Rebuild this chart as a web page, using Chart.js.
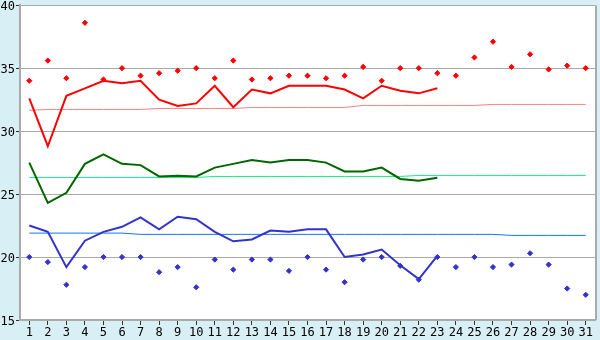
<!DOCTYPE html>
<html>
<head>
<meta charset="utf-8">
<script src="https://cdn.jsdelivr.net/npm/chart.js@4"></script>
<style>
  html, body { margin: 0; padding: 0; background: #d9eff6; }
  #wrap { width: 600px; height: 340px; }
</style>
</head>
<body>
<div id="wrap"><canvas id="chart" width="600" height="340"></canvas></div>
<script>
// days of the month
const days = ['1','2','3','4','5','6','7','8','9','10','11','12','13','14','15','16',
  '17','18','19','20','21','22','23','24','25','26','27','28','29','30','31'];

// daily readings (diamonds)
const highPoints = [34.0, 35.6, 34.2, 38.6, 34.1, 35.0, 34.4, 34.6, 34.8, 35.0, 34.2, 35.6, 34.1, 34.2, 34.4, 34.4,
  34.2, 34.4, 35.1, 34.0, 35.0, 35.0, 34.6, 34.4, 35.85, 37.1, 35.1, 36.1, 34.9, 35.2, 35.0];
const lowPoints = [20.0, 19.6, 17.8, 19.2, 20.0, 20.0, 20.0, 18.8, 19.2, 17.6, 19.8, 19.0, 19.8, 19.8, 18.9, 20.0,
  19.0, 18.0, 19.8, 20.0, 19.3, 18.2, 20.0, 19.2, 20.0, 19.2, 19.4, 20.3, 19.4, 17.5, 17.0];

// thick lines (first 23 days only)
const highLine = [32.6, 28.8, 32.8, 33.4, 34.0, 33.8, 34.0, 32.5, 32.0, 32.2, 33.6, 31.9, 33.3, 33.0, 33.6, 33.6,
  33.6, 33.3, 32.6, 33.6, 33.2, 33.0, 33.4, null, null, null, null, null, null, null, null];
const midLine = [27.5, 24.3, 25.1, 27.4, 28.15, 27.4, 27.3, 26.4, 26.45, 26.4, 27.1, 27.4, 27.7, 27.5, 27.7, 27.7,
  27.5, 26.8, 26.8, 27.1, 26.2, 26.05, 26.3, null, null, null, null, null, null, null, null];
const lowLine = [22.5, 22.0, 19.2, 21.3, 22.0, 22.4, 23.15, 22.2, 23.2, 23.0, 22.0, 21.25, 21.4, 22.1, 22.0, 22.2,
  22.2, 20.0, 20.2, 20.6, 19.35, 18.25, 20.1, null, null, null, null, null, null, null, null];

// thin reference lines
const highRef = [31.65, 31.72, 31.72, 31.72, 31.72, 31.72, 31.72, 31.8, 31.8, 31.8, 31.8, 31.8, 31.88, 31.88, 31.88, 31.88,
  31.88, 31.88, 32.04, 32.04, 32.04, 32.04, 32.04, 32.04, 32.04, 32.12, 32.12, 32.12, 32.12, 32.12, 32.12];
const midRef = [26.32, 26.32, 26.32, 26.32, 26.32, 26.32, 26.32, 26.32, 26.32, 26.32, 26.4, 26.4, 26.4, 26.4, 26.4, 26.4,
  26.4, 26.4, 26.4, 26.4, 26.4, 26.48, 26.48, 26.48, 26.48, 26.48, 26.48, 26.48, 26.48, 26.48, 26.48];
const lowRef = [21.9, 21.9, 21.9, 21.9, 21.9, 21.9, 21.8, 21.8, 21.8, 21.8, 21.8, 21.8, 21.8, 21.8, 21.8, 21.8,
  21.8, 21.8, 21.8, 21.8, 21.8, 21.8, 21.8, 21.8, 21.8, 21.8, 21.72, 21.72, 21.72, 21.72, 21.72];

const yTicks = [15, 20, 25, 30, 35, 40];

function lineSet(data, color, width, order) {
  return {
    data: data,
    borderColor: color,
    borderWidth: width,
    pointRadius: 0,
    tension: 0,
    fill: false,
    order: order
  };
}

function pointSet(data, color) {
  return {
    data: data,
    showLine: false,
    pointStyle: 'rectRot',
    pointRadius: 2.6,
    pointBorderWidth: 1,
    pointBackgroundColor: color,
    pointBorderColor: color,
    order: 0
  };
}

const plotFrame = {
  id: 'plotFrame',
  beforeDraw(chart) {
    const { ctx, chartArea: a } = chart;
    ctx.save();
    ctx.fillStyle = '#ffffff';
    ctx.fillRect(a.left, a.top, a.right - a.left, a.bottom - a.top);
    ctx.restore();
  },
  afterDraw(chart) {
    const { ctx, chartArea: a } = chart;
    ctx.save();
    ctx.strokeStyle = '#aaaaaa';
    ctx.lineWidth = 2;
    ctx.beginPath();
    ctx.moveTo(a.right + 1, a.top);
    ctx.lineTo(a.right + 1, a.bottom);
    ctx.stroke();
    ctx.restore();
  }
};

const ctx = document.getElementById('chart').getContext('2d');
new Chart(ctx, {
  type: 'line',
  data: {
    labels: days,
    datasets: [
      lineSet(highRef, '#ff8080', 1, 3),
      lineSet(midRef, '#11ee88', 1, 3),
      lineSet(lowRef, '#1177ee', 1, 3),
      lineSet(highLine, '#ff0000', 2, 2),
      lineSet(midLine, '#006600', 2, 2),
      lineSet(lowLine, '#3333cc', 2, 2),
      pointSet(highPoints, '#ff0000'),
      pointSet(lowPoints, '#3333cc')
    ]
  },
  options: {
    responsive: false,
    animation: false,
    layout: { padding: { top: 5, right: 5, left: 0, bottom: 0 } },
    plugins: { legend: { display: false }, tooltip: { enabled: false } },
    scales: {
      x: {
        offset: true,
        grid: { drawOnChartArea: false, drawTicks: true, tickLength: 5, color: '#333333', offset: false },
        border: { color: '#aaaaaa', width: 2 },
        ticks: {
          color: '#000000',
          font: { family: 'DejaVu Sans Mono', size: 12 },
          padding: 1,
          maxRotation: 0,
          autoSkip: false
        },
        afterFit(scale) { scale.height = 20; }
      },
      y: {
        min: 15,
        max: 40,
        afterBuildTicks(scale) { scale.ticks = yTicks.map(v => ({ value: v })); },
        grid: { color: '#aaaaaa', lineWidth: 1, tickLength: 4, tickColor: '#333333' },
        border: { color: '#aaaaaa', width: 2 },
        ticks: {
          color: '#000000',
          font: { family: 'DejaVu Sans Mono', size: 12, lineHeight: 0.7 },
          padding: 1,
          labelOffset: 1.5
        },
        afterFit(scale) { scale.width = 20; }
      }
    }
  },
  plugins: [plotFrame]
});
</script>
</body>
</html>
